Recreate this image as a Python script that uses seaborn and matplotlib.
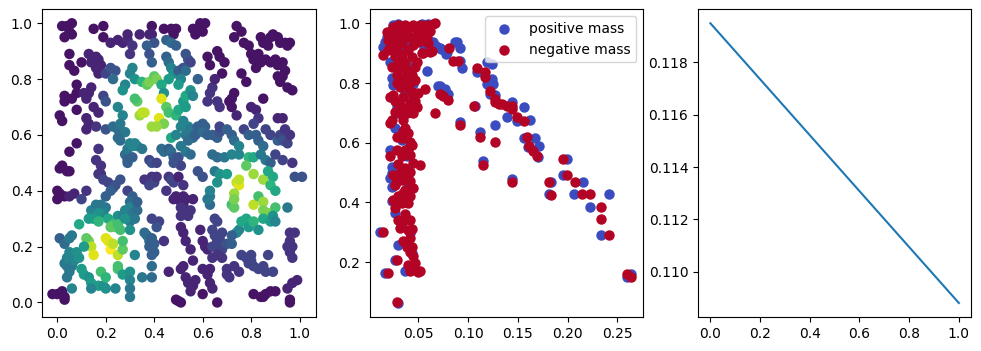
import matplotlib
matplotlib.use('Agg')

import matplotlib.pyplot as plt
import numpy as np
import pandas as pd
import seaborn as sns

# left panel: points (x, y, field value), grouped by horizontal band
band_top = [
    (0.02, 0.99, 0.05), (0.04, 0.99, 0.05), (0.03, 0.95, 0.05), (0.05, 0.97, 0.05), (0.06, 1.0, 0.05),
    (0.06, 0.96, 0.05), (0.15, 0.98, 0.05), (0.19, 0.99, 0.05), (0.19, 0.95, 0.05), (0.22, 0.93, 0.1),
    (0.25, 0.94, 0.1), (0.27, 0.93, 0.1), (0.29, 0.94, 0.12), (0.29, 0.96, 0.1), (0.31, 0.92, 0.15),
    (0.30, 0.89, 0.15), (0.34, 0.96, 0.1), (0.38, 0.96, 0.1), (0.39, 0.99, 0.05), (0.39, 0.96, 0.1),
    (0.40, 0.93, 0.25), (0.37, 0.92, 0.3), (0.38, 0.89, 0.25), (0.39, 0.86, 0.3), (0.44, 0.98, 0.05),
    (0.47, 0.98, 0.05), (0.49, 0.98, 0.05), (0.48, 0.96, 0.05), (0.45, 0.94, 0.3), (0.47, 0.93, 0.35),
    (0.49, 0.92, 0.3), (0.56, 0.98, 0.05), (0.57, 0.96, 0.05), (0.59, 0.98, 0.05), (0.59, 1.0, 0.05),
    (0.60, 0.97, 0.05), (0.61, 1.0, 0.05), (0.74, 0.99, 0.05), (0.73, 0.95, 0.05), (0.77, 0.93, 0.05),
    (0.79, 0.92, 0.05), (0.76, 0.97, 0.05), (0.84, 0.95, 0.05), (0.85, 0.93, 0.05), (0.87, 0.92, 0.05),
    (0.88, 0.95, 0.05), (0.89, 0.96, 0.05), (0.91, 0.95, 0.05), (0.92, 0.93, 0.05), (0.94, 0.93, 0.05),
    (0.95, 0.92, 0.05), (0.96, 0.93, 0.05), (0.80, 0.89, 0.05), (0.81, 0.87, 0.05), (0.83, 0.89, 0.05),
    (0.82, 0.84, 0.05), (0.84, 0.86, 0.05), (0.86, 0.87, 0.05), (0.66, 0.90, 0.05), (0.67, 0.88, 0.05),
    (0.69, 0.86, 0.05), (0.68, 0.82, 0.05), (0.62, 0.88, 0.05), (0.63, 0.85, 0.05),
]
band_80 = [
    (0.05, 0.89, 0.05), (0.05, 0.85, 0.05), (0.07, 0.83, 0.05), (0.10, 0.86, 0.05), (0.13, 0.89, 0.1),
    (0.16, 0.88, 0.1), (0.14, 0.86, 0.1), (0.17, 0.87, 0.1), (0.18, 0.85, 0.1), (0.16, 0.84, 0.1),
    (0.17, 0.82, 0.1), (0.20, 0.82, 0.2), (0.22, 0.84, 0.25), (0.24, 0.83, 0.25), (0.23, 0.80, 0.35),
    (0.31, 0.84, 0.45), (0.30, 0.82, 0.45), (0.28, 0.78, 0.45), (0.27, 0.76, 0.5), (0.45, 0.88, 0.3),
    (0.46, 0.86, 0.35), (0.47, 0.84, 0.45), (0.48, 0.82, 0.5), (0.46, 0.80, 0.55), (0.50, 0.83, 0.3),
    (0.52, 0.84, 0.25), (0.53, 0.89, 0.25), (0.54, 0.87, 0.25), (0.55, 0.86, 0.2), (0.53, 0.83, 0.35),
    (0.51, 0.80, 0.45), (0.50, 0.78, 0.55), (0.58, 0.80, 0.3), (0.88, 0.86, 0.05), (0.90, 0.87, 0.05),
    (0.91, 0.85, 0.05), (0.93, 0.86, 0.05), (0.91, 0.81, 0.05), (0.93, 0.81, 0.05), (0.92, 0.79, 0.05),
    (0.94, 0.83, 0.05), (0.95, 0.77, 0.05), (0.97, 0.76, 0.05), (0.78, 0.79, 0.05), (0.76, 0.82, 0.05),
]
band_70 = [
    (0.08, 0.78, 0.05), (0.08, 0.75, 0.05), (0.11, 0.75, 0.1), (0.13, 0.75, 0.1), (0.14, 0.77, 0.1),
    (0.12, 0.73, 0.1), (0.03, 0.74, 0.05), (0.03, 0.72, 0.05), (0.06, 0.73, 0.05), (0.08, 0.69, 0.05),
    (0.19, 0.74, 0.2), (0.20, 0.72, 0.25), (0.25, 0.70, 0.45), (0.27, 0.67, 0.45), (0.32, 0.80, 0.5),
    (0.35, 0.79, 0.65), (0.37, 0.78, 0.75), (0.38, 0.79, 0.8), (0.40, 0.81, 0.75), (0.41, 0.80, 0.8),
    (0.43, 0.78, 0.6), (0.44, 0.75, 0.5), (0.33, 0.72, 0.75), (0.32, 0.73, 0.7), (0.43, 0.73, 0.95),
    (0.45, 0.70, 0.75), (0.46, 0.68, 0.7), (0.49, 0.67, 0.65), (0.50, 0.69, 0.6), (0.52, 0.72, 0.55),
    (0.53, 0.74, 0.6), (0.55, 0.76, 0.5), (0.56, 0.74, 0.45), (0.53, 0.70, 0.55), (0.34, 0.67, 0.85),
    (0.35, 0.68, 0.9), (0.36, 0.68, 0.9), (0.42, 0.66, 0.95), (0.44, 0.64, 0.8), (0.41, 0.63, 0.85),
    (0.39, 0.63, 0.85), (0.62, 0.72, 0.15), (0.63, 0.75, 0.15), (0.64, 0.77, 0.15), (0.66, 0.72, 0.15),
    (0.67, 0.70, 0.15), (0.71, 0.72, 0.05), (0.72, 0.73, 0.05), (0.73, 0.75, 0.05), (0.72, 0.70, 0.05),
    (0.74, 0.67, 0.1), (0.65, 0.80, 0.1), (0.80, 0.70, 0.1), (0.82, 0.69, 0.1), (0.83, 0.66, 0.15),
    (0.85, 0.73, 0.05),
]
band_60 = [
    (0.01, 0.67, 0.05), (0.02, 0.65, 0.05), (0.12, 0.66, 0.1), (0.13, 0.64, 0.1), (0.12, 0.62, 0.1),
    (0.16, 0.63, 0.15), (0.15, 0.70, 0.1), (0.17, 0.68, 0.1), (0.20, 0.62, 0.25), (0.23, 0.63, 0.35),
    (0.25, 0.62, 0.35), (0.26, 0.64, 0.4), (0.28, 0.61, 0.4), (0.25, 0.59, 0.35), (0.26, 0.58, 0.35),
    (0.47, 0.59, 0.6), (0.49, 0.60, 0.45), (0.51, 0.63, 0.45), (0.52, 0.65, 0.45), (0.54, 0.63, 0.45),
    (0.55, 0.62, 0.4), (0.53, 0.60, 0.4), (0.54, 0.58, 0.35), (0.56, 0.59, 0.35), (0.57, 0.60, 0.3),
    (0.58, 0.63, 0.3), (0.60, 0.64, 0.3), (0.61, 0.63, 0.3), (0.60, 0.61, 0.35), (0.62, 0.60, 0.3),
    (0.64, 0.60, 0.3), (0.66, 0.59, 0.3), (0.67, 0.61, 0.25), (0.67, 0.63, 0.2), (0.70, 0.62, 0.3),
    (0.72, 0.60, 0.3), (0.73, 0.58, 0.35), (0.75, 0.56, 0.45), (0.75, 0.53, 0.45), (0.77, 0.62, 0.2),
    (0.79, 0.60, 0.3), (0.81, 0.64, 0.2), (0.82, 0.60, 0.3), (0.83, 0.58, 0.3), (0.85, 0.56, 0.35),
    (0.86, 0.62, 0.2), (0.88, 0.60, 0.2), (0.91, 0.58, 0.3), (0.92, 0.60, 0.2), (0.93, 0.58, 0.25),
    (0.94, 0.62, 0.15), (0.95, 0.57, 0.2), (0.91, 0.66, 0.1), (0.93, 0.66, 0.1), (0.96, 0.60, 0.15),
    (0.08, 0.57, 0.05), (0.05, 0.54, 0.05),
]
band_50 = [
    (0.17, 0.55, 0.15), (0.16, 0.51, 0.15), (0.18, 0.49, 0.15), (0.18, 0.46, 0.15), (0.17, 0.46, 0.15),
    (0.28, 0.53, 0.35), (0.29, 0.55, 0.4), (0.30, 0.57, 0.45), (0.31, 0.56, 0.45), (0.32, 0.57, 0.45),
    (0.33, 0.56, 0.45), (0.35, 0.55, 0.4), (0.29, 0.51, 0.3), (0.29, 0.50, 0.3), (0.31, 0.52, 0.3),
    (0.38, 0.51, 0.2), (0.39, 0.50, 0.25), (0.41, 0.50, 0.2), (0.43, 0.55, 0.35), (0.44, 0.54, 0.35),
    (0.46, 0.55, 0.3), (0.47, 0.54, 0.35), (0.48, 0.52, 0.3), (0.50, 0.52, 0.25), (0.51, 0.49, 0.2),
    (0.48, 0.50, 0.25), (0.51, 0.56, 0.4), (0.53, 0.54, 0.4), (0.55, 0.53, 0.35), (0.64, 0.53, 0.35),
    (0.66, 0.52, 0.35), (0.69, 0.52, 0.4), (0.65, 0.47, 0.4), (0.67, 0.46, 0.5), (0.70, 0.46, 0.55),
    (0.66, 0.43, 0.5), (0.72, 0.53, 0.45), (0.79, 0.52, 0.65), (0.81, 0.52, 0.6), (0.78, 0.49, 0.75),
    (0.81, 0.46, 0.85), (0.84, 0.53, 0.4), (0.86, 0.51, 0.4), (0.88, 0.50, 0.3), (0.90, 0.53, 0.2),
    (0.93, 0.51, 0.2), (0.97, 0.50, 0.15), (0.98, 0.45, 0.25), (1.01, 0.45, 0.25), (0.01, 0.48, 0.05),
    (0.02, 0.49, 0.05), (0.04, 0.47, 0.05), (0.05, 0.47, 0.05),
]
band_40 = [
    (0.19, 0.44, 0.2), (0.21, 0.43, 0.2), (0.23, 0.41, 0.25), (0.24, 0.42, 0.25), (0.26, 0.44, 0.25),
    (0.22, 0.40, 0.3), (0.20, 0.38, 0.3), (0.36, 0.44, 0.15), (0.39, 0.45, 0.15), (0.40, 0.43, 0.2),
    (0.41, 0.45, 0.15), (0.38, 0.42, 0.2), (0.46, 0.45, 0.15), (0.47, 0.44, 0.2), (0.48, 0.43, 0.2),
    (0.50, 0.45, 0.1), (0.52, 0.42, 0.15), (0.58, 0.47, 0.25), (0.60, 0.45, 0.25), (0.74, 0.43, 0.9),
    (0.75, 0.42, 0.95), (0.75, 0.44, 0.9), (0.85, 0.44, 0.85), (0.87, 0.47, 0.6), (0.89, 0.45, 0.6),
    (0.88, 0.42, 0.65), (0.90, 0.40, 0.6), (0.00, 0.40, 0.05), (0.01, 0.39, 0.05), (0.00, 0.37, 0.05),
    (0.03, 0.38, 0.05), (0.05, 0.38, 0.1), (0.07, 0.39, 0.1), (0.12, 0.40, 0.15), (0.10, 0.37, 0.2),
    (0.29, 0.40, 0.2), (0.31, 0.38, 0.3), (0.30, 0.36, 0.35), (0.45, 0.40, 0.15),
]
band_30 = [
    (0.14, 0.33, 0.45), (0.16, 0.35, 0.4), (0.18, 0.35, 0.4), (0.20, 0.34, 0.4), (0.19, 0.32, 0.45),
    (0.17, 0.32, 0.5), (0.15, 0.30, 0.55), (0.13, 0.30, 0.55), (0.17, 0.29, 0.65), (0.21, 0.30, 0.6),
    (0.23, 0.28, 0.7), (0.24, 0.27, 0.75), (0.22, 0.27, 0.75), (0.25, 0.31, 0.5), (0.27, 0.31, 0.45),
    (0.28, 0.33, 0.45), (0.30, 0.34, 0.45), (0.31, 0.32, 0.4), (0.33, 0.33, 0.35), (0.32, 0.30, 0.4),
    (0.30, 0.29, 0.4), (0.33, 0.36, 0.3), (0.48, 0.37, 0.1), (0.49, 0.38, 0.1), (0.50, 0.37, 0.1),
    (0.51, 0.36, 0.1), (0.52, 0.38, 0.1), (0.53, 0.37, 0.1), (0.52, 0.35, 0.1), (0.51, 0.34, 0.15),
    (0.53, 0.32, 0.15), (0.54, 0.31, 0.15), (0.55, 0.33, 0.15), (0.56, 0.37, 0.1), (0.51, 0.31, 0.15),
    (0.63, 0.35, 0.35), (0.63, 0.38, 0.4), (0.63, 0.40, 0.45), (0.62, 0.37, 0.4), (0.72, 0.35, 0.7),
    (0.73, 0.34, 0.75), (0.73, 0.39, 0.85), (0.73, 0.37, 0.8), (0.81, 0.35, 0.9), (0.83, 0.38, 0.7),
    (0.85, 0.36, 0.85), (0.85, 0.33, 0.8), (0.87, 0.32, 0.8), (0.90, 0.34, 0.7), (0.95, 0.34, 0.4),
    (0.42, 0.29, 0.2), (0.41, 0.27, 0.25), (0.39, 0.30, 0.2), (0.64, 0.26, 0.2), (0.65, 0.30, 0.2),
    (0.66, 0.29, 0.2),
]
band_20 = [
    (0.09, 0.28, 0.6), (0.13, 0.22, 0.8), (0.12, 0.23, 0.75), (0.14, 0.20, 0.9), (0.15, 0.17, 0.95),
    (0.11, 0.20, 0.55), (0.20, 0.23, 0.95), (0.21, 0.22, 0.95), (0.22, 0.19, 1.0), (0.23, 0.21, 0.9),
    (0.25, 0.17, 0.9), (0.27, 0.19, 0.75), (0.27, 0.22, 0.7), (0.25, 0.28, 0.7), (0.26, 0.26, 0.7),
    (0.30, 0.26, 0.5), (0.28, 0.30, 0.5), (0.36, 0.25, 0.35), (0.37, 0.24, 0.35), (0.38, 0.22, 0.35),
    (0.39, 0.23, 0.3), (0.40, 0.21, 0.3), (0.38, 0.20, 0.3), (0.40, 0.18, 0.3), (0.39, 0.17, 0.3),
    (0.44, 0.22, 0.15), (0.51, 0.27, 0.1), (0.52, 0.25, 0.1), (0.53, 0.22, 0.1), (0.55, 0.19, 0.1),
    (0.59, 0.26, 0.1), (0.60, 0.22, 0.1), (0.61, 0.20, 0.1), (0.62, 0.19, 0.1), (0.65, 0.24, 0.2),
    (0.66, 0.22, 0.2), (0.67, 0.23, 0.2), (0.68, 0.25, 0.2), (0.66, 0.20, 0.2), (0.68, 0.19, 0.2),
    (0.70, 0.21, 0.25), (0.72, 0.21, 0.3), (0.74, 0.25, 0.45), (0.75, 0.26, 0.45), (0.76, 0.29, 0.6),
    (0.78, 0.30, 0.6), (0.79, 0.27, 0.55), (0.81, 0.29, 0.65), (0.83, 0.26, 0.5), (0.85, 0.30, 0.6),
    (0.88, 0.29, 0.55), (0.89, 0.31, 0.5), (0.90, 0.29, 0.45), (0.72, 0.24, 0.3), (0.64, 0.20, 0.2),
    (0.96, 0.25, 0.15), (0.98, 0.25, 0.15), (0.96, 0.22, 0.15), (0.97, 0.20, 0.15), (0.95, 0.20, 0.15),
    (0.96, 0.18, 0.15), (0.97, 0.16, 0.15), (0.01, 0.23, 0.3), (0.03, 0.21, 0.35), (0.05, 0.23, 0.4),
    (0.06, 0.24, 0.4),
]
band_bottom = [
    (0.05, 0.18, 0.45), (0.06, 0.17, 0.45), (0.04, 0.16, 0.45), (0.03, 0.14, 0.4), (0.04, 0.13, 0.4),
    (0.05, 0.15, 0.45), (0.06, 0.13, 0.4), (0.07, 0.15, 0.45), (0.05, 0.11, 0.4), (0.04, 0.09, 0.4),
    (0.08, 0.18, 0.5), (0.09, 0.16, 0.5), (0.10, 0.12, 0.55), (0.11, 0.10, 0.55), (0.13, 0.09, 0.5),
    (0.14, 0.07, 0.55), (0.17, 0.06, 0.55), (0.19, 0.06, 0.5), (0.20, 0.05, 0.5), (0.24, 0.05, 0.45),
    (0.18, 0.11, 0.7), (0.20, 0.09, 0.65), (0.25, 0.12, 0.7), (0.25, 0.13, 0.7), (0.27, 0.10, 0.55),
    (0.30, 0.11, 0.5), (0.30, 0.08, 0.45), (0.30, 0.05, 0.4), (0.30, 0.02, 0.4), (0.35, 0.09, 0.4),
    (0.39, 0.09, 0.35), (0.39, 0.13, 0.35), (0.32, 0.17, 0.45), (0.46, 0.11, 0.1), (0.51, 0.12, 0.1),
    (0.53, 0.09, 0.1), (0.54, 0.07, 0.1), (0.56, 0.06, 0.1), (0.55, 0.04, 0.1), (0.52, 0.13, 0.1),
    (0.56, 0.15, 0.1), (0.60, 0.12, 0.1), (0.62, 0.10, 0.1), (0.63, 0.12, 0.1), (0.63, 0.07, 0.1),
    (0.64, 0.05, 0.1), (0.66, 0.00, 0.05), (0.64, 0.16, 0.15), (0.66, 0.17, 0.15), (0.68, 0.16, 0.15),
    (0.70, 0.12, 0.15), (0.70, 0.10, 0.15), (0.71, 0.09, 0.15), (0.73, 0.13, 0.15), (0.75, 0.11, 0.15),
    (0.76, 0.17, 0.2), (0.78, 0.16, 0.2), (0.79, 0.14, 0.2), (0.80, 0.17, 0.2), (0.80, 0.15, 0.2),
    (0.81, 0.13, 0.2), (0.83, 0.12, 0.2), (0.85, 0.13, 0.2), (0.86, 0.11, 0.2), (0.87, 0.17, 0.2),
    (0.89, 0.11, 0.2), (0.51, 0.00, 0.05), (0.49, 0.01, 0.05), (0.50, 0.005, 0.05), (0.81, 0.03, 0.05),
    (0.84, 0.02, 0.05), (0.85, 0.02, 0.05), (0.86, 0.03, 0.05), (0.88, 0.04, 0.05), (0.90, 0.04, 0.05),
    (0.95, 0.05, 0.1), (0.97, 0.07, 0.1), (0.99, 0.08, 0.1), (0.96, 0.00, 0.05), (0.96, 0.01, 0.05),
    (-0.02, 0.03, 0.05), (0.00, 0.03, 0.05), (0.02, 0.04, 0.05), (0.03, 0.02, 0.05), (0.03, 0.01, 0.05),
    (0.06, 0.05, 0.45), (0.14, 0.05, 0.45), (0.60, 0.03, 0.05), (0.57, 0.08, 0.1),
]

# middle panel: (x, y) of each mass
positive_mass = [
    (0.0718, 0.919), (0.0786, 0.903), (0.0869, 0.936), (0.0890, 0.936), (0.0919, 0.916), (0.0919, 0.875),
    (0.0936, 0.849), (0.0718, 0.791), (0.0768, 0.780), (0.0800, 0.763), (0.0919, 0.668), (0.1071, 0.724),
    (0.1090, 0.836), (0.1120, 0.637), (0.1150, 0.540), (0.1187, 0.869), (0.1237, 0.863), (0.1187, 0.797),
    (0.1237, 0.814), (0.1254, 0.797), (0.1221, 0.763), (0.1271, 0.760), (0.1439, 0.735), (0.1556, 0.719),
    (0.1389, 0.685), (0.1490, 0.674), (0.1624, 0.676), (0.1271, 0.658), (0.1439, 0.478), (0.1556, 0.615),
    (0.1667, 0.615), (0.1606, 0.585), (0.1707, 0.588), (0.1700, 0.551), (0.1830, 0.469), (0.1813, 0.428),
    (0.1997, 0.547), (0.1957, 0.491), (0.2158, 0.469), (0.2064, 0.428), (0.2222, 0.386), (0.2410, 0.428),
    (0.2332, 0.292), (0.2638, 0.161), (0.2598, 0.150),
    (0.0600, 0.998), (0.0534, 0.998), (0.0366, 0.931), (0.0450, 0.937), (0.0480, 0.948), (0.0560, 0.914),
    (0.0650, 0.937), (0.0680, 0.925), (0.0730, 0.914), (0.0780, 0.897), (0.0585, 0.841), (0.0450, 0.797),
    (0.0701, 0.791), (0.0735, 0.780), (0.0769, 0.769),
    (0.0149, 0.922), (0.0165, 0.939), (0.0215, 0.872), (0.0232, 0.816), (0.0249, 0.794), (0.0282, 0.721),
    (0.0265, 0.648), (0.0232, 0.520), (0.0232, 0.498), (0.0215, 0.481), (0.0232, 0.453), (0.0232, 0.403),
    (0.0265, 0.364), (0.0298, 0.258), (0.0366, 0.169), (0.0484, 0.169), (0.0165, 0.163), (0.0265, 0.208),
    (0.0115, 0.300), (0.0298, 0.062), (0.0215, 0.576), (0.0249, 0.994), (0.0298, 0.998), (0.0182, 0.955),
    (0.0332, 0.610), (0.0383, 0.554), (0.0366, 0.408), (0.0399, 0.453), (0.0416, 0.297), (0.0433, 0.230),
    (0.0332, 0.911), (0.0416, 0.855), (0.0366, 0.766), (0.0282, 0.699),
]
negative_mass = [
    (0.0803, 0.916), (0.0900, 0.875), (0.0852, 0.875), (0.0718, 0.763), (0.0800, 0.744), (0.0750, 0.758),
    (0.0670, 0.700), (0.0919, 0.660), (0.1054, 0.722), (0.1090, 0.849), (0.1120, 0.620), (0.1150, 0.526),
    (0.1171, 0.836), (0.1171, 0.819), (0.1221, 0.774), (0.1271, 0.747), (0.1271, 0.735), (0.1305, 0.730),
    (0.1338, 0.730), (0.1389, 0.724), (0.1439, 0.724), (0.1439, 0.713), (0.1490, 0.685), (0.1556, 0.674),
    (0.1271, 0.603), (0.1439, 0.469), (0.1596, 0.618), (0.1616, 0.590), (0.1653, 0.573), (0.1694, 0.557),
    (0.1813, 0.469), (0.1830, 0.426), (0.1957, 0.547), (0.1997, 0.491), (0.2071, 0.469), (0.2148, 0.428),
    (0.2225, 0.428), (0.2332, 0.386), (0.2332, 0.345), (0.2410, 0.292), (0.2591, 0.159), (0.2638, 0.150),
    (0.0635, 0.908), (0.0534, 0.902), (0.0567, 0.780), (0.0650, 0.998),
    (0.0149, 0.894), (0.0182, 0.972), (0.0198, 0.944), (0.0215, 0.922), (0.0249, 0.989), (0.0265, 0.961),
    (0.0298, 0.994), (0.0316, 0.972), (0.0332, 0.933), (0.0366, 0.994), (0.0383, 0.967), (0.0416, 0.989),
    (0.0450, 0.994), (0.0484, 0.978), (0.0517, 0.994), (0.0550, 0.983), (0.0584, 0.994), (0.0668, 1.000),
    (0.0282, 0.911), (0.0332, 0.894), (0.0399, 0.911), (0.0450, 0.927), (0.0500, 0.939), (0.0433, 0.888),
    (0.0366, 0.872), (0.0298, 0.866), (0.0484, 0.872), (0.0550, 0.900), (0.0600, 0.933), (0.0618, 0.905),
    (0.0232, 0.855), (0.0282, 0.827), (0.0383, 0.844), (0.0433, 0.827), (0.0332, 0.810), (0.0467, 0.855),
    (0.0399, 0.782), (0.0316, 0.788), (0.0249, 0.760), (0.0215, 0.754), (0.0349, 0.754), (0.0450, 0.754),
    (0.0500, 0.766), (0.0416, 0.732), (0.0316, 0.727), (0.0265, 0.704), (0.0383, 0.699), (0.0450, 0.699),
    (0.0484, 0.721), (0.0349, 0.676), (0.0232, 0.676), (0.0215, 0.665), (0.0366, 0.648), (0.0399, 0.632),
    (0.0332, 0.615), (0.0416, 0.604), (0.0433, 0.593), (0.0366, 0.576), (0.0416, 0.559), (0.0282, 0.576),
    (0.0215, 0.554), (0.0332, 0.554), (0.0450, 0.531), (0.0517, 0.526), (0.0366, 0.514), (0.0316, 0.498),
    (0.0249, 0.492), (0.0416, 0.503), (0.0332, 0.475), (0.0265, 0.459), (0.0416, 0.470), (0.0450, 0.448),
    (0.0366, 0.442), (0.0298, 0.420), (0.0383, 0.414), (0.0249, 0.408), (0.0332, 0.397), (0.0399, 0.397),
    (0.0298, 0.342), (0.0316, 0.314), (0.0416, 0.342), (0.0399, 0.308), (0.0416, 0.280), (0.0383, 0.252),
    (0.0433, 0.252), (0.0149, 0.300), (0.0450, 0.219), (0.0467, 0.196), (0.0416, 0.169), (0.0517, 0.169),
    (0.0282, 0.208), (0.0198, 0.163), (0.0282, 0.065),
    (0.0232, 0.978), (0.0282, 0.955), (0.0349, 0.950), (0.0416, 0.955), (0.0467, 0.950), (0.0533, 0.960),
    (0.0567, 0.940), (0.0249, 0.933), (0.0199, 0.910), (0.0265, 0.890), (0.0316, 0.850), (0.0366, 0.820),
    (0.0416, 0.800), (0.0467, 0.810), (0.0282, 0.800), (0.0349, 0.790), (0.0433, 0.770), (0.0266, 0.740),
    (0.0316, 0.700), (0.0399, 0.720), (0.0466, 0.740), (0.0349, 0.640), (0.0283, 0.620), (0.0399, 0.580),
    (0.0300, 0.530), (0.0383, 0.490), (0.0282, 0.470), (0.0349, 0.430), (0.0416, 0.420), (0.0266, 0.380),
    (0.0366, 0.360), (0.0332, 0.330), (0.0433, 0.310), (0.0349, 0.270), (0.0416, 0.235), (0.0399, 0.190),
    (0.0500, 0.166), (0.0617, 0.975), (0.0584, 0.955),
]

# right panel
line_x = [0.0, 1.0]
line_y = [0.1195, 0.1088]


def main():
    field = pd.DataFrame(band_top + band_80 + band_70 + band_60 + band_50 +
                         band_40 + band_30 + band_20 + band_bottom,
                         columns=['x', 'y', 'value'])
    pos = pd.DataFrame(positive_mass, columns=['x', 'y'])
    neg = pd.DataFrame(negative_mass, columns=['x', 'y'])

    fig = plt.figure(figsize=(9.81, 3.51), dpi=100)
    w, h, b = 0.2786, 0.8766, 0.0969
    ax1 = fig.add_axes([0.0431, b, w, h])
    ax2 = fig.add_axes([0.3772, b, w, h])
    ax3 = fig.add_axes([0.7115, b, w, h])

    sns.scatterplot(data=field, x='x', y='y', hue='value', palette='viridis',
                    hue_norm=(0, 1), s=36, edgecolor='face', linewidth=1.5,
                    legend=False, ax=ax1)
    ax1.set_xlim(-0.062, 1.066)
    ax1.set_ylim(-0.052, 1.05)

    sns.scatterplot(data=pos, x='x', y='y', color='#3b4cc0', s=36, edgecolor='face',
                    linewidth=1.5, label='positive mass', ax=ax2)
    sns.scatterplot(data=neg, x='x', y='y', color='#b40426', s=36, edgecolor='face',
                    linewidth=1.5, label='negative mass', ax=ax2)
    ax2.set_xlim(0.0014, 0.276)
    ax2.set_ylim(0.016, 1.047)
    ax2.set_xticks([0.05, 0.10, 0.15, 0.20, 0.25])
    ax2.set_yticks([0.2, 0.4, 0.6, 0.8, 1.0])
    ax2.legend(loc='upper right')

    sns.lineplot(x=line_x, y=line_y, ax=ax3)
    ax3.set_yticks([0.110, 0.112, 0.114, 0.116, 0.118])

    for ax in (ax1, ax2, ax3):
        ax.set_xlabel('')
        ax.set_ylabel('')

    fig.savefig('out.png', dpi=100)
    plt.close(fig)


if __name__ == '__main__':
    main()
